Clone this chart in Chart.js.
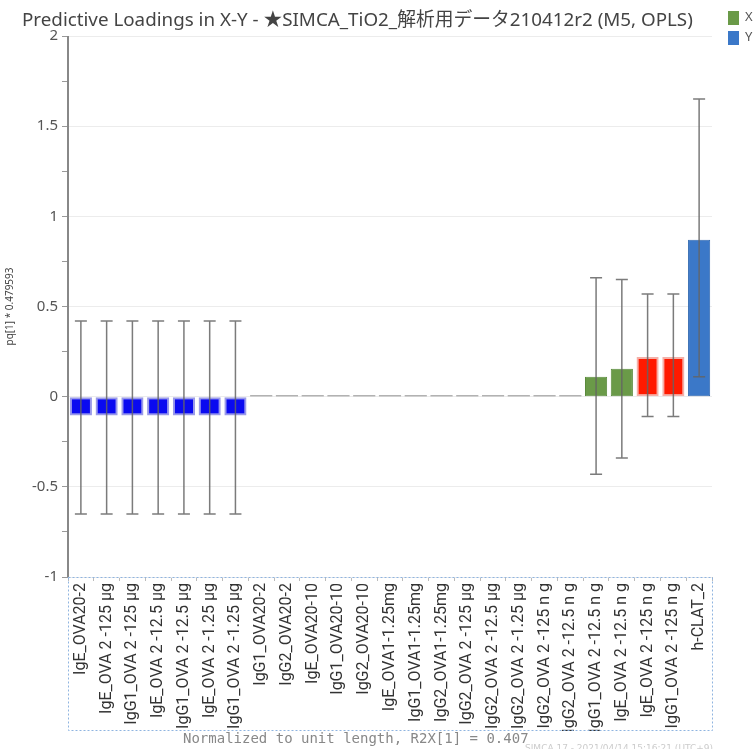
<!DOCTYPE html>
<html>
<head>
<meta charset="utf-8">
<script src="https://cdn.jsdelivr.net/npm/chart.js@4"></script>
<style>
  body { margin: 0; background: #fff; overflow: hidden; }
  #wrap { position: relative; width: 756px; height: 749px; }
  #title { position: absolute; left: 22px; top: 4px; font: 18.8px "Noto Sans", "Noto Sans CJK JP", sans-serif; color: #444; white-space: nowrap; }
  .leg { position: absolute; left: 728px; font: 13px "Noto Sans", sans-serif; color: #555; white-space: nowrap; }
  .leg span { display: inline-block; width: 11px; height: 14px; vertical-align: middle; margin-right: 6px; }
  #foot { position: absolute; left: 183px; top: 731px; font: 14px/14px "DejaVu Sans Mono", monospace; color: #888; white-space: nowrap; }
  #stamp { position: absolute; left: 525px; top: 743px; font: 9px "DejaVu Sans", sans-serif; color: #ccc; white-space: nowrap; }
</style>
</head>
<body>
<div id="wrap">
  <canvas id="chart" width="756" height="749"></canvas>
  <div id="title">Predictive Loadings in X-Y - ★SIMCA_TiO2_解析用データ210412r2 (M5, OPLS)</div>
  <div class="leg" style="top:7px"><span style="background:#6a9a48"></span>X</div>
  <div class="leg" style="top:27px"><span style="background:#3b78c8"></span>Y</div>
  <div id="foot">Normalized to unit length, R2X[1] = 0.407</div>
  <div id="stamp">SIMCA 17 - 2021/04/14 15:16:21 (UTC+9)</div>
</div>
<script>
const labels = [
  'IgE_OVA20-2', 'IgE_OVA 2 -125 μg', 'IgG1_OVA 2 -125 μg', 'IgE_OVA 2 -12.5 μg',
  'IgG1_OVA 2 -12.5 μg', 'IgE_OVA 2 -1.25 μg', 'IgG1_OVA 2 -1.25 μg', 'IgG1_OVA20-2',
  'IgG2_OVA20-2', 'IgE_OVA20-10', 'IgG1_OVA20-10', 'IgG2_OVA20-10',
  'IgE_OVA1-1.25mg', 'IgG1_OVA1-1.25mg', 'IgG2_OVA1-1.25mg', 'IgG2_OVA 2 -125 μg',
  'IgG2_OVA 2 -12.5 μg', 'IgG2_OVA 2 -1.25 μg', 'IgG2_OVA 2 -125 n g', 'IgG2_OVA 2 -12.5 n g',
  'IgG1_OVA 2 -12.5 n g', 'IgE_OVA 2 -12.5 n g', 'IgE_OVA 2 -125 n g', 'IgG1_OVA 2 -125 n g',
  'h-CLAT_2'
];
const loadings = [
  -0.105, -0.105, -0.105, -0.105, -0.105, -0.105, -0.105,
  0.006, 0.006, 0.006, 0.006, 0.006, 0.006, 0.006, 0.006, 0.006, 0.006, 0.006, 0.006, 0.006,
  0.11, 0.155, 0.22, 0.22, 0.87
];
const errHigh = [
  0.42, 0.42, 0.42, 0.42, 0.42, 0.42, 0.42,
  null, null, null, null, null, null, null, null, null, null, null, null, null,
  0.66, 0.65, 0.57, 0.57, 1.65
];
const errLow = [
  -0.65, -0.65, -0.65, -0.65, -0.65, -0.65, -0.65,
  null, null, null, null, null, null, null, null, null, null, null, null, null,
  -0.43, -0.34, -0.11, -0.11, 0.11
];
// group per bar: s = selected X (blue), z = ~0, x = X, r = selected X (red), y = Y
const groups = 'ssssssszzzzzzzzzzzzzxxrry'.split('');

const fill = { s: '#0a0af0', z: '#444444', x: '#6a9a48', r: '#ff1a00', y: '#3b78c8' };
const edge = { s: '#9a9ae8', z: '#444444', x: '#5a8a3c', r: '#f4b0a8', y: '#3068b0' };

const errorBars = {
  id: 'errorBars',
  afterDatasetsDraw(chart) {
    const { ctx, scales: { x, y } } = chart;
    ctx.save();
    ctx.strokeStyle = 'rgba(100,100,100,0.85)';
    ctx.lineWidth = 1.5;
    errHigh.forEach((hi, i) => {
      if (hi === null) return;
      const px = x.getPixelForValue(i);
      const top = y.getPixelForValue(hi);
      const bot = y.getPixelForValue(errLow[i]);
      ctx.beginPath();
      ctx.moveTo(px, top); ctx.lineTo(px, bot);
      ctx.moveTo(px - 6, top); ctx.lineTo(px + 6, top);
      ctx.moveTo(px - 6, bot); ctx.lineTo(px + 6, bot);
      ctx.stroke();
    });
    ctx.restore();
  }
};

const axisBox = {
  id: 'axisBox',
  afterDraw(chart) {
    const { ctx, chartArea: a, scales: { x } } = chart;
    ctx.save();
    ctx.strokeStyle = '#8fb4e0';
    ctx.lineWidth = 1;
    ctx.setLineDash([2, 2]);
    ctx.strokeRect(a.left + 0.5, a.bottom + 0.5, a.right - a.left, x.bottom - a.bottom - 1);
    ctx.setLineDash([]);
    ctx.strokeStyle = '#888';
    ctx.lineWidth = 2;
    ctx.beginPath();
    ctx.moveTo(a.left, a.top);
    ctx.lineTo(a.left, a.bottom);
    ctx.stroke();
    ctx.restore();
  }
};

new Chart(document.getElementById('chart').getContext('2d'), {
  type: 'bar',
  data: {
    labels: labels,
    datasets: [{
      data: loadings,
      backgroundColor: groups.map(g => fill[g]),
      borderColor: groups.map(g => edge[g]),
      borderWidth: groups.map(g => (g === 's' || g === 'r') ? 2 : (g === 'z' ? 0 : 1)),
      borderSkipped: false,
      categoryPercentage: 1.0,
      barPercentage: 0.86
    }]
  },
  options: {
    responsive: false,
    animation: false,
    layout: { padding: { top: 36, right: 44, bottom: 18, left: 0 } },
    plugins: {
      legend: { display: false },
      tooltip: { enabled: false }
    },
    scales: {
      x: {
        grid: { drawOnChartArea: false, drawTicks: true, tickLength: 4, color: '#bbb' },
        border: { display: false },
        ticks: {
          autoSkip: false,
          minRotation: 90,
          maxRotation: 90,
          padding: 2,
          color: '#333',
          font: { family: 'Roboto', size: 16 }
        },
        afterFit(scale) { scale.height = 154; }
      },
      y: {
        min: -1,
        max: 2,
        border: { display: false },
        grid: {
          color: ctx => (Math.abs(ctx.tick.value * 2 - Math.round(ctx.tick.value * 2)) < 1e-6 ? '#ececec' : 'rgba(0,0,0,0)'),
          tickColor: '#999',
          tickLength: 6
        },
        ticks: {
          stepSize: 0.25,
          color: '#555',
          padding: 4,
          font: { family: 'Noto Sans', size: 15 },
          callback: v => (Math.abs(v * 2 - Math.round(v * 2)) < 1e-6 ? String(v) : '')
        },
        title: {
          display: true,
          text: 'pq[1] * 0.479593',
          color: '#444',
          font: { family: 'Noto Sans', size: 10 },
          padding: { top: 4, bottom: 0 }
        },
        afterFit(scale) { scale.width = 68; }
      }
    }
  },
  plugins: [errorBars, axisBox]
});
</script>
</body>
</html>
